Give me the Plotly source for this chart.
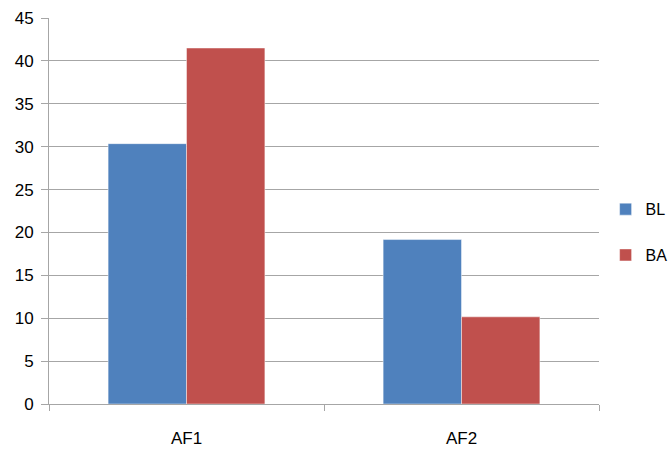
import plotly.graph_objects as go

categories = ["AF1", "AF2"]
bl_values = [30.35, 19.17]
ba_values = [41.5, 10.16]
y_ticks = [0, 5, 10, 15, 20, 25, 30, 35, 40, 45]

FONT = "Liberation Sans Narrow, Arial Narrow, Liberation Sans, sans-serif"
GRID = "#a6a6a6"

fig = go.Figure()
fig.add_trace(go.Bar(
    x=categories, y=bl_values, name="BL", legendgroup="BL",
    marker=dict(color="#4F81BD", line=dict(color="rgba(255,255,255,0.45)", width=1)),
))
fig.add_trace(go.Bar(
    x=categories, y=ba_values, name="BA", legendgroup="BA",
    marker=dict(color="#C0504D", line=dict(color="rgba(255,255,255,0.45)", width=1)),
))

fig.update_layout(
    width=669, height=450,
    margin=dict(l=49, r=70, t=18, b=46, autoexpand=False),
    paper_bgcolor="white", plot_bgcolor="white",
    barmode="group", bargap=0.43, bargroupgap=0,
    font=dict(family=FONT, size=17, color="#000000"),
    legend=dict(x=1.012, y=0.445, xanchor="left", yanchor="middle",
                tracegroupgap=22, font=dict(size=16), itemwidth=30),
    showlegend=True,
)
fig.update_yaxes(
    range=[0, 45], tickvals=y_ticks, showgrid=True, gridcolor=GRID, gridwidth=1,
    showline=True, linecolor=GRID, linewidth=1,
    ticks="outside", ticklen=7, tickcolor=GRID, zeroline=False,
    ticklabelstandoff=4,
)
fig.update_xaxes(
    showline=True, linecolor=GRID, linewidth=1,
    ticks="outside", ticklen=6, tickcolor=GRID, tickson="boundaries",
    ticklabelstandoff=19,
)

fig.write_html("out.html")
